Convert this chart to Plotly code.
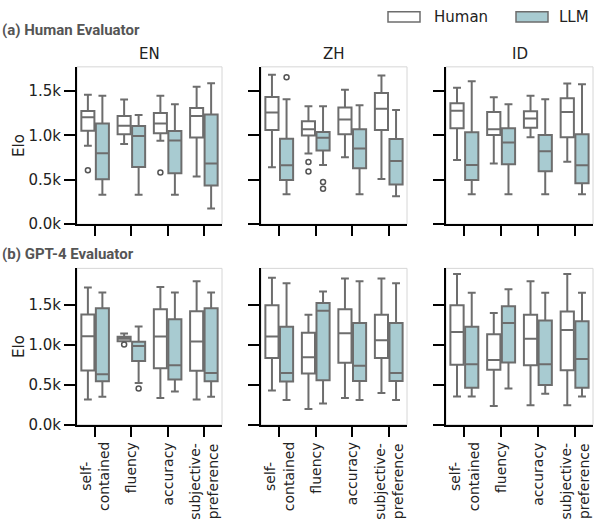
import plotly.graph_objects as go

# categories and panels
criteria = ["self-<br>contained", "fluency", "accuracy", "subjective-<br>preference"]
langs = ["EN", "ZH", "ID"]

# (a) human evaluator: rows = criteria, values = [lower, q1, median, q3, upper]
human_eval_human = {
    "EN": [[883, 1052, 1203, 1273, 1457], [901, 1012, 1107, 1218, 1402],
           [938, 1023, 1133, 1251, 1446], [537, 975, 1218, 1306, 1545]],
    "ZH": [[640, 1060, 1255, 1431, 1681], [795, 997, 1067, 1159, 1328],
           [754, 1012, 1177, 1313, 1512], [508, 1060, 1299, 1475, 1674]],
    "ID": [[721, 1078, 1277, 1361, 1534], [681, 1004, 1067, 1262, 1428],
           [979, 1085, 1188, 1269, 1446], [703, 979, 1262, 1416, 1582]],
}
human_eval_llm = {
    "EN": [[331, 504, 798, 1133, 1446], [331, 644, 993, 1104, 1229],
           [331, 574, 942, 1049, 1350], [177, 434, 681, 1233, 1586]],
    "ZH": [[335, 497, 662, 960, 1405], [666, 828, 971, 1038, 1328],
           [335, 629, 850, 1067, 1339], [313, 445, 710, 957, 1284]],
    "ID": [[335, 497, 666, 1034, 1608], [335, 673, 920, 1078, 1350],
           [335, 596, 820, 1004, 1405], [335, 460, 662, 1012, 1575]],
}
# outliers: (criterion index, value)
human_eval_human_out = {"EN": [(0, 607), (2, 581)], "ZH": [(1, 699), (1, 592)], "ID": []}
human_eval_llm_out = {"EN": [], "ZH": [(0, 1652), (1, 475), (1, 397)], "ID": []}

# (b) GPT-4 evaluator
gpt_eval_human = {
    "EN": [[317, 680, 1109, 1381, 1719], [1047, 1047, 1076, 1101, 1142],
           [334, 709, 1105, 1447, 1727], [317, 676, 1043, 1422, 1797]],
    "ZH": [[429, 837, 1105, 1496, 1843], [198, 643, 845, 1154, 1377],
           [334, 775, 1146, 1447, 1834], [396, 837, 1059, 1377, 1834]],
    "ID": [[354, 750, 1162, 1496, 1888], [235, 688, 812, 1134, 1401],
           [243, 746, 1076, 1377, 1797], [243, 684, 1187, 1418, 1888]],
}
gpt_eval_llm = {
    "EN": [[350, 544, 631, 1459, 1657], [523, 800, 985, 1039, 1232],
           [416, 565, 746, 1323, 1657], [350, 544, 647, 1459, 1657]],
    "ZH": [[309, 540, 647, 1228, 1772], [264, 556, 1430, 1525, 1669],
           [309, 548, 738, 1274, 1797], [309, 548, 647, 1274, 1772]],
    "ID": [[354, 462, 758, 1228, 1653], [453, 779, 1274, 1484, 1698],
           [387, 499, 758, 1307, 1653], [354, 462, 824, 1298, 1653]],
}
gpt_eval_human_out = {"EN": [(1, 1006)], "ZH": [], "ID": []}
gpt_eval_llm_out = {"EN": [(1, 453)], "ZH": [], "ID": []}

rows = [
    (human_eval_human, human_eval_llm, human_eval_human_out, human_eval_llm_out, 1770),
    (gpt_eval_human, gpt_eval_llm, gpt_eval_human_out, gpt_eval_llm_out, 1960),
]

W, H = 597, 531
LINE = "#6d6d6d"
BLUE = "#a8cbd1"
FONT = "DejaVu Sans"
xdom = [(77 / W, 222 / W), (261 / W, 407 / W), (446 / W, 593 / W)]
ydom = [(1 - 228 / H, 1 - 68 / H), (1 - 432 / H, 1 - 273 / H)]

fig = go.Figure()
n = 0
for r, (hum, llm, hum_out, llm_out, ymax) in enumerate(rows):
    for c, lang in enumerate(langs):
        n += 1
        xa = "x" if n == 1 else f"x{n}"
        ya = "y" if n == 1 else f"y{n}"
        for name, data, outs, fill, off in [("Human", hum, hum_out, "white", -0.2),
                                            ("LLM", llm, llm_out, BLUE, 0.2)]:
            stats = data[lang]
            fig.add_trace(go.Box(
                x=[i + off for i in range(4)],
                lowerfence=[s[0] for s in stats], q1=[s[1] for s in stats],
                median=[s[2] for s in stats], q3=[s[3] for s in stats],
                upperfence=[s[4] for s in stats],
                width=0.36, whiskerwidth=0.6, fillcolor=fill,
                line=dict(color=LINE, width=2), boxpoints=False,
                name=name, showlegend=False,
                xaxis=xa, yaxis=ya, hoverinfo="skip"))
            if outs[lang]:
                fig.add_trace(go.Scatter(
                    x=[o[0] + off for o in outs[lang]], y=[o[1] for o in outs[lang]],
                    mode="markers", showlegend=False, xaxis=xa, yaxis=ya,
                    marker=dict(symbol="circle-open", size=5, color="#555555",
                                line=dict(width=1.5))))
        key = "" if n == 1 else str(n)
        fig.layout["xaxis" + key] = dict(
            domain=xdom[c], anchor=ya, range=[-0.5, 3.5],
            tickvals=[0, 1, 2, 3], showticklabels=False,
            ticks="outside", ticklen=10, tickwidth=2, tickcolor="black",
            showline=True, linecolor="black", linewidth=2, showgrid=False, zeroline=False)
        fig.layout["yaxis" + key] = dict(
            domain=ydom[r], anchor=xa, range=[0, ymax],
            tickvals=[0, 500, 1000, 1500],
            ticktext=["0.0k", "0.5k", "1.0k", "1.5k"] if c == 0 else [""] * 4,
            ticks="outside", ticklen=11, tickwidth=2, tickcolor="black",
            showline=True, linecolor="black", linewidth=2, showgrid=False, zeroline=False,
            tickfont=dict(family=FONT, size=15, color="#222"),
            title=dict(text="Elo", standoff=0,
                       font=dict(family=FONT, size=15, color="#222")) if c == 0 else None)
        fig.add_shape(type="rect", xref=f"{xa} domain", yref=f"{ya} domain",
                      x0=0, x1=1, y0=0, y1=1, line=dict(color="#d6d6d6", width=1),
                      layer="below")
        if r == 0:
            fig.add_annotation(text=lang, xref=f"{xa} domain", yref="paper",
                               x=0.5, y=ydom[0][1] + 0.004, yanchor="bottom",
                               showarrow=False,
                               font=dict(family=FONT, size=15, color="#222"))
        else:
            # rotated category labels, lines centred like the original
            for i, lab in enumerate(criteria):
                fig.add_annotation(text=lab, xref=xa, yref="paper", x=i, y=1 - 448 / H,
                                   xanchor="center", yanchor="top", textangle=-90,
                                   align="center", showarrow=False,
                                   font=dict(family=FONT, size=14, color="#222"))

for txt, y in [("<b>(a) Human Evaluator</b>", 1 - 31 / H), ("<b>(b) GPT-4 Evaluator</b>", 1 - 258 / H)]:
    fig.add_annotation(text=txt, xref="paper", yref="paper", x=0, y=y,
                       xanchor="left", yanchor="middle", showarrow=False,
                       font=dict(family="Roboto", size=15, color="#555555"))

# legend drawn by hand: wide patches like the original
for name, fill, x0, xt in [("Human", "white", 388, 432), ("LLM", BLUE, 516, 557)]:
    fig.add_shape(type="rect", xref="paper", yref="paper",
                  x0=x0 / W, x1=(x0 + 32) / W, y0=1 - 22.5 / H, y1=1 - 12 / H,
                  fillcolor=fill, line=dict(color=LINE, width=1.5))
    fig.add_annotation(text=name, xref="paper", yref="paper", x=xt / W, y=1 - 17 / H,
                       xanchor="left", yanchor="middle", showarrow=False,
                       font=dict(family=FONT, size=15, color="#222"))

fig.update_layout(
    width=W, height=H, margin=dict(l=0, r=0, t=0, b=0),
    plot_bgcolor="white", paper_bgcolor="white", showlegend=False,
)
fig.write_html("out.html", config={"displayModeBar": False},
               post_script="document.body.style.margin='0';document.body.style.overflow='hidden';")
